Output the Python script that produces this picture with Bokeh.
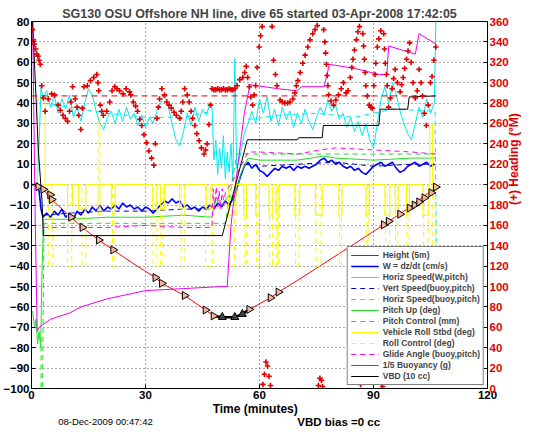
import math
from bokeh.plotting import figure
from bokeh.layouts import column
from bokeh.models import Range1d, LinearAxis, Legend, LegendItem, FixedTicker
from bokeh.core.properties import value
from bokeh.embed import file_html
from bokeh.resources import INLINE

NaN = float("nan")
TITLE = "SG130 OSU Offshore NH line, dive 65 started 03-Apr-2008 17:42:05"
X_LABEL = "Time (minutes)"
FOOT_LEFT = "08-Dec-2009 00:47:42"
FOOT_MID = "VBD bias =0 cc"
X_TICKS = [0, 30, 60, 90, 120]
Y_TICKS = list(range(-100, 81, 10))
H_TICKS = list(range(0, 361, 20))

# Height (5m)
height_t = [0.5, 1.8, 3.1, 5.3, 10.4, 13.4, 17.7, 21.5, 27, 32.6, 34.3, 40.3, 45.8, 47.9, 50.2,
            53.5, 55.5, 57.3, 62.9, 65, 70, 75, 80, 85, 92.7, 98, 102, 106.4]
height_v = [0, -1, -2.3, -7.3, -16, -21, -27.2, -32, -39, -45.6, -48.4, -54.4, -61.5, -64.4, -65,
            -65, -63.5, -61.2, -55.5, -52.7, -47, -41, -35, -29, -19.7, -13, -7.5, -1.2]
# GC markers on the height trace
mark_t = [1.8, 3.1, 4.9, 5.3, 10.4, 13.4, 17.7, 21.5, 32.6, 34.3, 40.3, 45.8, 47.9, 57.3, 62.9, 65,
          92.7, 94, 97, 99.5, 100.8, 102, 103.4, 105.2, 106.4]
mark_v = [-1, -2.3, -5, -7.3, -16, -21, -27.2, -32, -45.6, -48.4, -54.4, -61.5, -64.4, -61.2, -55.5,
          -52.7, -19.7, -18, -14.5, -11.5, -10, -8.5, -6.5, -4, -1.2]
apo_t = [47.9, 50.2, 53.5, 55.5, 57.3]
apo_v = [-64.4, -65, -65, -63.5, -61.2]

# W = dz/dt (cm/s)
w_t = [0, 1, 2, 2.5] + list(range(3, 107))
w_v = [0, 0, -3, -12,
       -16, -14, -16, -13, -15, -12, -16, -14, -17, -13, -15, -12, -14, -11, -13, -10, -13, -11,
       -12, -10, -12, -9, -11, -10, -12, -11, -13, -11, -12, -14, -12, -10, -8, -9, -7, -9, -8,
       -11, -10, -12, -11, -13, -11, -12, -10, -12, -9, -11, -8, -10, -7, -2, 4, 9, 11, 8, 10, 7,
       6, 4, 6, 8, 7, 9, 8, 9, 7, 9, 8, 9, 8, 9, 10, 12, 13, 11, 12, 10, 11, 9, 8, 9, 7, 8, 6, 5,
       7, 9, 10, 11, 9, 10, 11, 8, 6, 7, 9, 10, 11, 9, 10, 11, 9, 10]

# Horiz Speed (W, pitch)
hs_t = [1.5, 2, 2.5, 3, 4, 5, 6, 7, 8, 9, 10, 11, 12, 13, 14, 15, 16, 17, 18, 19, 20, 21, 22, 23,
        24, 25, 26, 27, 28, 29, 30, 31, 32, 33, 34, 35, 36, 37, 38, 39, 40, 41, 42, 43, 44, 45, 46,
        47, 47.5, 48, 48.5, 49, 49.5, 50, 50.5, 51, 51.5, 52, 52.5, 53, 53.5, 54, 55, 56, 57, 58,
        59, 60, 61, 62, 63, 64, 65, 66, 67, 68, 69, 70, 71, 72, 73, 74, 75, 76, 77, 78, 79, 80, 81,
        82, 83, 84, 85, 86, 87, 88, 89, 90, 91, 92, 93, 94, 95, 96, 97, 98, 99, 100, 101, 102, 103,
        104, 105, 106, 106.4]
hs_v = [0, 20, 48, 42, 46, 38, 44, 35, 42, 37, 44, 33, 38, 31, 40, 47, 44, 36, 30, 27, 33, 36, 30,
        37, 31, 38, 32, 35, 29, 34, 28, 33, 30, 36, 40, 44, 38, 30, 22, 19, 26, 35, 29, 38, 31, 37,
        34, 40, 38, 12, 22, 5, 18, 8, 24, 3, 16, 6, 20, 2, 62, 8, 15, 25, 30, 36, 30, 42, 35, 43,
        31, 37, 29, 38, 32, 36, 28, 35, 30, 37, 31, 27, 33, 38, 34, 42, 36, 39, 32, 35, 28, 33, 26,
        31, 24, 30, 22, 18, 30, 42, 48, 40, 50, 44, 36, 30, 25, 22, 30, 38, 33, 42, 35, 40, 80]

# Vert / Horiz speed from buoyancy & pitch (gap at apogee)
vb_t = [3, 10, 20, 30, 40, 47.5, NaN, 56, 60, 70, 80, 90, 100, 106.2]
vb_v = [-15, -14, -13, -13, -12, -12, NaN, 10, 9, 10, 11, 9, 10, 10]
hb_t = [3, 10, 20, 30, 40, 47.5, NaN, 57, 65, 75, 85, 95, 106.2, 106.5]
hb_v = [40, 38, 35, 33, 33, 36, NaN, 32, 34, 35, 33, 37, 36, -30]

# Pitch up (deg) and pitch control (mm)
pitch_t = [0.3, 0.8, 1.2, 1.6, 2.0, 2.4, 2.8, 3.2, 10, 20, 30, 40, 47.5, 48.5, 50, 52, 53.5, 55,
           57, 60, 70, 77, 80, 90, 100, 106.3]
pitch_v = [-62, -70, -66, -78, -72, -80, -40, -17, -17, -16, -16, -15, -16, -6, -10, -5, -8, 5,
           13, 12, 12, 14, 13, 12, 13, 13]
pc_t = [2.5, 2.5, 2.9, 3.3, 20, 47.5, 51, 54, 80, 106.3]
pc_v = [-75, -100, -100, -19, -19, -19, -19, 15, 15, 15]

# Roll (deg): turn events (start, end, value)
roll_s = [1.6, 9.5, 12.4, 17.5, 21.0, 31.8, 34.0, 39.0, 46.0, 51.8, 55.8, 59.0, 62.5, 64.3, 69.3,
          74.7, 80.9, 88.0, 93.0, 95.7, 98.7, 103.0, 104.8]
roll_e = [3.6, 10.8, 14.3, 18.0, 22.0, 33.0, 35.0, 40.4, 47.2, 53.8, 56.6, 60.0, 63.5, 65.2, 70.6,
          76.5, 81.7, 88.9, 94.3, 96.5, 99.5, 104.6, 105.5]
roll_val = [42, -10, -12, -15, -12, -12, -12, -12, -12, -15, -15, -15, -15, -15, -15, -15, -15,
            -15, -15, -15, -15, -15, 30]
rc_s = [4.4, 9.5, 13.3, 17.5, 21.3, 32.0, 34.0, 39.4, 45.8, 52.0, 56.2, 59.2, 62.6, 64.5, 69.5,
        74.9, 81.0, 88.2, 93.2, 95.8, 98.8, 103.2, 105.6]
rc_e = [5.6, 10.6, 14.3, 18.0, 22.0, 33.0, 34.6, 40.2, 47.6, 53.4, 56.6, 59.9, 63.4, 65.0, 70.4,
        76.2, 81.6, 88.8, 94.2, 96.4, 99.4, 104.4, 106.4]
rc_val = [-40, -40, -40, 33, -40, -40, -40, -40, -40, -40, -40, -40, -40, -40, -40, -40, -40,
          -40, -40, -40, -40, -40, -30]

# Glide angle (buoy, pitch)
ga_t = [3, 10, 20, 30, 40, 47.5, 47.8, 48.2, 48.6, 49, 49.4, 49.8, 50.2, 50.6, 51, 54, 57, 60, 70,
        76, 80, 90, 100, 106.3]
ga_v = [-21, -21, -21, -20, -21, -21, -2, -12, -1, -11, -3, -12, -2, -10, -4, 5, 16, 16, 15, 17,
        18, 17, 16, 15]

# 1/5 Buoyancy (g)
bu_t = [0, 0.3, 1.0, 1.5, 2, 5, 10, 13, 20, 30, 40, 50, 51.5, 52.5, 54, 56, 57.5, 65, 70, 71, 77,
        78.4, 85, 91.5, 93.5, 94, 101, 102, 106.4]
bu_v = [80, 80, -20, -72, -70, -66, -63, -60, -56, -52, -51, -50, -50, -20, 5, 35, 49, 47, 46,
        48, 48, 59, 57, 54, 54, 68, 64, 74, 69]

# VBD (10 cc)
vbd_t = [0.3, 1.8, 2.8, 3.1, 50.2, 56.8, 70, 70.3, 76.5, 76.8, 91.4, 91.8, 99, 99.4, 106.4]
vbd_v = [80, 17, -9, -25, -25, 22, 22, 23, 23, 29, 29, 37, 37, 43, 43.5]

# Heading (deg M), right axis
head_t = [0.3, 0.5, 0.8, 1.1, 1.4, 1.7, 2.0, 2.3, 2.7, 3.1, 3.6, 4.4, 5.3, 6.1, 7.0, 7.6,
          8.3, 8.9, 9.5, 10.0, 10.4, 10.8, 11.5, 12.0, 12.4, 13.0, 13.4, 13.8, 14.7, 15.5, 16.4, 17.2,
          17.5, 17.7, 18.1, 18.5, 18.9, 19.8, 20.6, 21.2, 21.9, 22.5, 23.2, 24.1, 24.9, 25.8, 26.1, 26.8,
          27.4, 27.9, 28.5, 29.0, 29.6, 30.3, 30.9, 31.6, 32.2, 32.6, 33.0, 33.4, 33.7, 34.3, 35.0, 35.6,
          36.2, 36.8, 37.5, 38.1, 39.0, 39.4, 39.8, 40.3, 41.0, 41.5, 42.0, 42.4, 43.0, 43.5, 44.1, 44.7,
          45.4, 45.8, 46.2, 46.7, 47.1, 47.5, 48.0, 48.5, 49.0, 49.5, 50.0, 50.5, 51.0, 51.5, 52.0, 52.5,
          53.0, 53.5, 54.1, 54.8, 55.6, 56.1, 56.5, 56.9, 57.3, 57.7, 58.2, 58.6, 59.0, 59.4, 59.9, 60.3,
          60.7, 60.9, 61.3, 61.7, 62.1, 62.5, 62.9, 63.3, 63.7, 64.2, 64.6, 65.4, 66.0, 66.7, 67.4, 68.0,
          68.8, 69.3, 69.7, 70.1, 70.7, 71.4, 72.0, 72.7, 73.3, 74.0, 74.6, 75.2, 75.5, 75.9, 76.3, 76.6,
          76.9, 77.2, 77.4, 77.6, 77.8, 78.0, 78.2, 78.8, 79.5, 80.1, 80.8, 81.5, 82.1, 82.8, 83.3, 83.9,
          84.3, 84.6, 85.0, 85.5, 85.9, 86.3, 86.6, 86.9, 87.2, 87.4, 87.6, 87.8, 88.0, 88.4, 88.9, 89.3,
          89.7, 90.1, 90.4, 90.6, 91.0, 91.4, 91.9, 92.2, 92.4, 92.7, 92.9, 93.1, 93.4, 93.6, 94.0, 94.5,
          94.9, 95.3, 95.7, 96.3, 97.0, 97.4, 97.8, 98.2, 98.7, 99.1, 99.5, 99.9, 100.4, 101.0, 101.5, 102.0,
          102.5, 102.9, 103.4, 103.9, 104.4, 105.0, 105.4, 105.9, 106.4]
head_v = [352, 342, 338, 333, 328, 326, 322, 318, 297, 285, 272, 284, 289, 288, 278, 273,
          268, 265, 262, 272, 281, 296, 284, 276, 268, 254, 275, 296, 297, 302, 305, 308,
          300, 292, 278, 272, 268, 272, 281, 292, 296, 294, 292, 289, 294, 291, 288, 281,
          277, 272, 264, 258, 249, 241, 233, 226, 219, 240, 265, 276, 284, 294, 288, 281,
          278, 275, 271, 268, 265, 272, 281, 294, 288, 281, 272, 265, 258, 250, 243, 236,
          230, 234, 240, 259, 278, 294, 293, 293, 294, 293, 293, 294, 293, 293, 294, 293,
          293, 294, 297, 303, 305, 310, 316, 305, 296, 286, 278, 288, 297, 315, 335, 346,
          355, 4, 14, 26, 22, 12, 3, 355, 322, 308, 297, 283, 281, 280, 280, 281,
          284, 290, 297, 302, 310, 319, 327, 335, 342, 348, 352, 356, 3, 10, 8, 2,
          352, 340, 329, 318, 307, 297, 288, 282, 278, 283, 288, 294, 300, 290, 292, 305,
          315, 323, 332, 342, 350, 355, 4, 8, 348, 336, 323, 310, 297, 287, 278, 276,
          275, 297, 308, 319, 335, 343, 351, 5, 2, 348, 333, 319, 308, 297, 276, 285,
          294, 304, 313, 300, 291, 298, 305, 314, 323, 331, 339, 320, 300, 285, 292, 313,
          300, 287, 270, 258, 278, 300, 306, 322, 335]
head_goal = 287
head_span = [0, 106.4]

FONT = "Liberation Sans"
RED = "#e00000"
W_TOTAL = 530
H_MAIN = 402
H_FOOT = 24


def steps(starts, ends, vals, t0, t1):
    xs, ys = [t0], [0]
    for s, e, v in zip(starts, ends, vals):
        xs += [s, s, e, e]
        ys += [0, v, v, 0]
    xs.append(t1)
    ys.append(0)
    return xs, ys


p = figure(width=W_TOTAL, height=H_MAIN, output_backend="svg", toolbar_location=None,
           x_range=Range1d(0, 120), y_range=Range1d(-100, 80),
           min_border_left=30, min_border_right=40, min_border_top=21, min_border_bottom=14)
p.background_fill_color = "white"
p.border_fill_color = "white"
p.outline_line_color = "black"
p.outline_line_width = 1

p.title.text = TITLE
p.title.align = "center"
p.title.text_font = FONT
p.title.text_font_size = "12.5px"
p.title.text_font_style = "bold"
p.title.standoff = 2

for ax in (p.xaxis[0], p.yaxis[0]):
    ax.major_tick_in = 4
    ax.major_tick_out = 0
    ax.minor_tick_line_color = None
    ax.axis_line_color = "black"
    ax.major_tick_line_color = "black"
    ax.major_label_text_font = FONT
    ax.major_label_text_font_size = "11.5px"
    ax.major_label_text_font_style = "bold"
    ax.major_label_text_color = "black"
    ax.major_label_standoff = 2
p.xaxis.ticker = FixedTicker(ticks=X_TICKS)
p.yaxis.ticker = FixedTicker(ticks=Y_TICKS)

for g in (p.xgrid[0], p.ygrid[0]):
    g.grid_line_color = "#555555"
    g.grid_line_dash = "1 3"
    g.grid_line_width = 1
p.xgrid.ticker = FixedTicker(ticks=X_TICKS)
p.ygrid.ticker = FixedTicker(ticks=Y_TICKS)

p.extra_y_ranges = {"hd": Range1d(0, 360)}
rax = LinearAxis(y_range_name="hd", ticker=FixedTicker(ticks=H_TICKS),
                 axis_label="(+) Heading (°M)")
rax.major_tick_in = 4
rax.major_tick_out = 0
rax.minor_tick_line_color = None
rax.major_label_text_font = FONT
rax.major_label_text_font_size = "11.5px"
rax.major_label_text_font_style = "bold"
rax.major_label_text_color = RED
rax.major_label_standoff = 2
rax.axis_label_text_font = FONT
rax.axis_label_text_font_size = "12px"
rax.axis_label_text_font_style = "bold"
rax.axis_label_text_color = RED
rax.axis_label_standoff = 2
if "axis_label_orientation" in rax.properties():
    rax.axis_label_orientation = math.pi / 2
p.add_layout(rax, "right")

DASH = "5 4"
r_h = p.line(height_t, height_v, line_color="#ff0000", line_width=1)
r_w = p.line(w_t, w_v, line_color="#0000ff", line_width=1.6)
r_hs = p.line(hs_t, hs_v, line_color="#00e8f0", line_width=1)
r_vb = p.line(vb_t, vb_v, line_color="#0000cc", line_width=1, line_dash=DASH)
r_hb = p.line(hb_t, hb_v, line_color="#00e8f0", line_width=1, line_dash=DASH)
r_p = p.line(pitch_t, pitch_v, line_color="#22dd22", line_width=1)
r_pc = p.line(pc_t, pc_v, line_color="#22dd22", line_width=1, line_dash=DASH)
rx, ry = steps(roll_s, roll_e, roll_val, 1.0, 106.4)
r_r = p.line(rx, ry, line_color="#f8f800", line_width=1)
cx, cy = steps(rc_s, rc_e, rc_val, 3.0, 106.4)
r_rc = p.line(cx, cy, line_color="#f8f800", line_width=1, line_dash=DASH)
r_ga = p.line(ga_t, ga_v, line_color="#ff00ff", line_width=1, line_dash=DASH)
r_bu = p.line(bu_t, bu_v, line_color="#ee00ee", line_width=1)
r_vbd = p.line(vbd_t, vbd_v, line_color="black", line_width=1)

p.line(apo_t, apo_v, line_color="black", line_width=2.5)
p.scatter(mark_t, mark_v, marker="triangle", size=8, angle=-math.pi / 2,
          fill_color="#f4b49c", line_color="black", line_width=1)
p.scatter(apo_t[1:4], apo_v[1:4], marker="triangle", size=8,
          fill_color="#444444", line_color="black", line_width=1)

p.line(head_span, [head_goal, head_goal], y_range_name="hd", line_color=RED,
       line_width=1, line_dash="6 4")
p.scatter(head_t, head_v, y_range_name="hd", marker="cross", size=5.5,
          line_color=RED, line_width=1.6)

items = [
    ("Height (5m)", r_h), ("W = dz/dt (cm/s)", r_w), ("Horiz Speed(W,pitch)", r_hs),
    ("Vert Speed(buoy,pitch)", r_vb), ("Horiz Speed(buoy,pitch)", r_hb),
    ("Pitch Up (deg)", r_p), ("Pitch Control (mm)", r_pc), ("Vehicle Roll Stbd (deg)", r_r),
    ("Roll Control (deg)", r_rc), ("Glide Angle (buoy,pitch)", r_ga),
    ("1/5 Buoyancy (g)", r_bu), ("VBD (10 cc)", r_vbd),
]
leg = Legend(items=[LegendItem(label=l, renderers=[r]) for l, r in items],
             location="bottom_right", margin=3, padding=3, spacing=1,
             glyph_width=28, glyph_height=10, label_height=10, label_standoff=4,
             label_text_font=FONT, label_text_font_size="8.5px", label_text_font_style="bold",
             border_line_color="black", border_line_width=1, background_fill_alpha=1)
p.add_layout(leg)

# Footer strip: x-axis title and the two footnotes (pixel coordinates of the strip)
foot = figure(width=W_TOTAL, height=H_FOOT, output_backend="svg", toolbar_location=None,
              x_range=Range1d(0, W_TOTAL), y_range=Range1d(0, H_FOOT),
              min_border_left=0, min_border_right=0, min_border_top=0, min_border_bottom=0)
foot.axis.visible = False
foot.grid.visible = False
foot.outline_line_color = None
foot.background_fill_color = "white"
foot.border_fill_color = "white"
foot.text(x=[260], y=[18], text=[X_LABEL], text_font=value(FONT), text_font_size="12px",
          text_font_style="bold", text_align="center", text_baseline="middle", text_color="black")
foot.text(x=[31], y=[5], text=[FOOT_LEFT], text_font=value(FONT), text_font_size="9.5px",
          text_align="left", text_baseline="middle", text_color="black")
foot.text(x=[309], y=[5], text=[FOOT_MID], text_font=value(FONT), text_font_size="11.5px",
          text_font_style="bold", text_align="left", text_baseline="middle", text_color="black")

layout = column(p, foot, spacing=0)
open("out.html", "w").write(file_html(layout, INLINE))
